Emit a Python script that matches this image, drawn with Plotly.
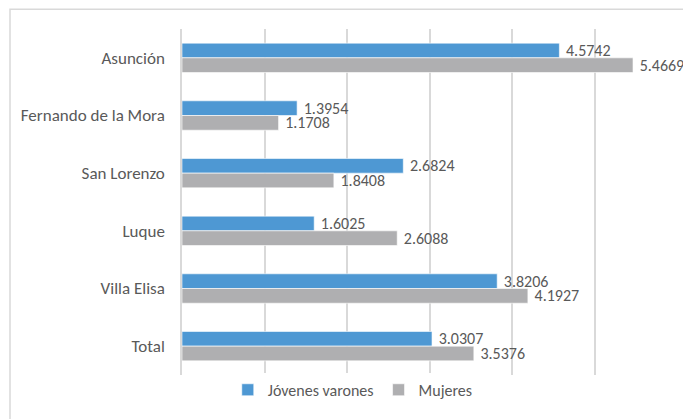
import plotly.graph_objects as go

# Datos
categorias = ["Asunción", "Fernando de la Mora", "San Lorenzo", "Luque", "Villa Elisa", "Total"]
jovenes_varones = [4.5742, 1.3954, 2.6824, 1.6025, 3.8206, 3.0307]
mujeres = [5.4669, 1.1708, 1.8408, 2.6088, 4.1927, 3.5376]

AZUL = "#4E98D3"
GRIS = "#AFAFB1"
TEXTO = "#595959"
FUENTE = "Carlito, Lato, sans-serif"

# la página deja 8 px de margen en el body: se compensa en el tamaño y márgenes
W, H = 683, 411
L, T = 174, 21
PW, PH = 495, 352

fig = go.Figure()

for nombre, valores, color in [("Jóvenes varones", jovenes_varones, AZUL), ("Mujeres", mujeres, GRIS)]:
    fig.add_trace(go.Bar(
        y=categorias, x=valores, orientation="h", name=nombre,
        marker=dict(color=color, line=dict(color="white", width=0.6)),
        text=["\u00a0" + f"{v:.4f}" for v in valores], textposition="outside",
        constraintext="none", cliponaxis=False,
        textfont=dict(color=TEXTO, size=16, family=FUENTE),
    ))

fig.update_layout(
    width=W, height=H,
    margin=dict(l=L, r=W - L - PW, t=T, b=H - T - PH),
    barmode="group", bargap=0.49, bargroupgap=0,
    plot_bgcolor="white", paper_bgcolor="white",
    font=dict(family=FUENTE, color=TEXTO, size=17),
    showlegend=True,
    legend=dict(
        orientation="h", x=0.345, xanchor="center", y=-0.043, yanchor="middle",
        font=dict(size=16, color=TEXTO), itemwidth=30, traceorder="normal",
    ),
)

fig.update_xaxes(
    range=[0, 6], dtick=1, showticklabels=False, showgrid=True,
    gridcolor="#D9D9D9", gridwidth=1.5, zeroline=False, showline=False,
    automargin=False,
)
fig.update_yaxes(
    autorange="reversed", showgrid=False, showline=True, linecolor="#D9D9D9",
    linewidth=1.5, ticks="", ticklabelstandoff=12, automargin=False,
    tickfont=dict(size=17, color=TEXTO),
)

# Marco exterior del gráfico
fig.add_shape(
    type="rect", xref="paper", yref="paper",
    x0=-(L - 2) / PW, x1=(W + 10 - L) / PW, y0=-(H + 10 - T - PH) / PH, y1=(T + 1) / PH + 1 - 2 / PH,
    line=dict(color="#D9D9D9", width=1.5), fillcolor="rgba(0,0,0,0)", layer="below",
)

fig.write_html("out.html")
